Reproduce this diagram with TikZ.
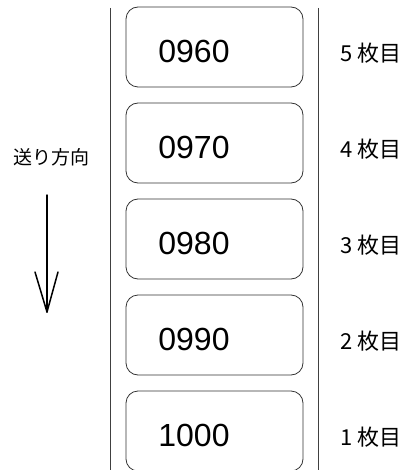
\documentclass[tikz,border=0pt]{standalone}
\usepackage{fontspec}
\setmainfont{Liberation Sans}
\newfontfamily\cjk{Noto Sans CJK JP}
\begin{document}
\begin{tikzpicture}[x=1pt,y=-1pt,
  card/.style={draw=black!80, line width=0.8pt, rounded corners=12pt, minimum width=177pt, minimum height=80pt, inner sep=0pt},
  num/.style={font=\fontsize{32}{32}\selectfont, inner sep=0pt},
  lbl/.style={font=\cjk\fontsize{22}{22}\selectfont, inner sep=0pt},
  rail/.style={draw=black!75, line width=0.8pt},
  arr/.style={line width=1.5pt, line cap=round, line join=round}]
\useasboundingbox (0,0) rectangle (416,470);
% rails
\coordinate (lt) at (110,8); \coordinate (lb) at (110,470);
\coordinate (rt) at (318,8); \coordinate (rb) at (318,470);
\draw[rail] (lt) -- (lb);
\draw[rail] (rt) -- (rb);
% cards
\foreach \i/\t/\k in {0/0960/5, 1/0970/4, 2/0980/3, 3/0990/2, 4/1000/1}{
  \node[card] (c\k) at (214.5, 47+96*\i) {};
  \node[num] (n\k) at (194, 51+96*\i) {\t};
  \node[lbl] (l\k) at (371, 53+96*\i) {\k\ 枚目};
}
% direction
\node[font=\cjk\fontsize{19}{19}\selectfont, inner sep=0pt] (dir) at (51,157) {送り方向};
\coordinate (a0) at (47,195);
\coordinate (a1) at (47,312);
\coordinate (hl) at (35,272);
\coordinate (hr) at (58,272);
\draw[arr] (a0) -- (a1);
\draw[arr] (hl) -- (a1) -- (hr);
\end{tikzpicture}
\end{document}
